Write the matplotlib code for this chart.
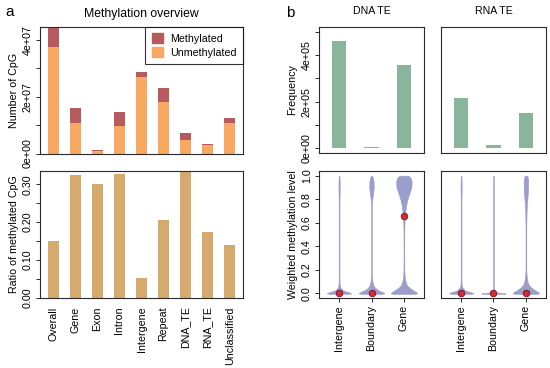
import numpy as np
import matplotlib as mpl
mpl.use('Agg')
import matplotlib.pyplot as plt
from matplotlib.patches import Patch

mpl.rcParams['font.family'] = ['Liberation Sans', 'DejaVu Sans']
mpl.rcParams['font.size'] = 7.7

# ---- panel a data ----
regions = ['Overall', 'Gene', 'Exon', 'Intron', 'Intergene', 'Repeat',
           'DNA_TE', 'RNA_TE', 'Unclassified']
unmethylated = [3.76e7, 1.08e7, 0.77e6, 0.98e7, 2.69e7, 1.81e7, 0.48e7, 0.29e7, 1.07e7]
methylated = [0.69e7, 0.53e7, 0.33e6, 0.48e7, 0.16e7, 0.48e7, 0.25e7, 0.06e7, 0.18e7]
ratio = [0.151, 0.325, 0.302, 0.328, 0.053, 0.205, 0.335, 0.173, 0.140]

# ---- panel b data ----
te_groups = ['DNA TE', 'RNA TE']
locations = ['Intergene', 'Boundary', 'Gene']
frequency = {'DNA TE': [4.58e5, 0.6e4, 3.58e5],
             'RNA TE': [2.17e5, 1.4e4, 1.50e5]}
medians = {'DNA TE': [0.0, 0.0, 0.655],
           'RNA TE': [0.0, 0.0, 0.0]}

# violin outlines: half width (x units) at each methylation level
levels = [-0.005, 0.0, 0.01, 0.02, 0.03, 0.05, 0.07, 0.1, 0.15, 0.2, 0.3, 0.4,
          0.5, 0.55, 0.6, 0.65, 0.7, 0.75, 0.8, 0.85, 0.9, 0.95, 0.98, 1.0]
halfwidth = {
    'DNA TE': [
        [0.30, 0.38, 0.30, 0.17, 0.10, 0.04, 0.02, 0.014, 0.012, 0.012, 0.012, 0.012,
         0.012, 0.012, 0.012, 0.012, 0.012, 0.012, 0.014, 0.018, 0.02, 0.018, 0.014, 0.01],
        [0.32, 0.40, 0.35, 0.26, 0.19, 0.10, 0.055, 0.03, 0.016, 0.013, 0.012, 0.012,
         0.012, 0.012, 0.012, 0.012, 0.012, 0.014, 0.025, 0.05, 0.07, 0.065, 0.045, 0.02],
        [0.33, 0.41, 0.38, 0.32, 0.26, 0.16, 0.09, 0.05, 0.022, 0.013, 0.011, 0.011,
         0.012, 0.014, 0.02, 0.03, 0.045, 0.07, 0.11, 0.17, 0.23, 0.24, 0.21, 0.14],
    ],
    'RNA TE': [
        [0.30, 0.38, 0.30, 0.17, 0.10, 0.04, 0.02, 0.014, 0.012, 0.012, 0.012, 0.012,
         0.012, 0.012, 0.012, 0.012, 0.012, 0.012, 0.013, 0.016, 0.018, 0.016, 0.013, 0.01],
        [0.36, 0.38, 0.012, 0.012, 0.012, 0.012, 0.012, 0.012, 0.012, 0.012, 0.012, 0.012,
         0.012, 0.012, 0.012, 0.012, 0.012, 0.012, 0.012, 0.012, 0.012, 0.012, 0.012, 0.01],
        [0.33, 0.41, 0.38, 0.32, 0.26, 0.16, 0.09, 0.05, 0.022, 0.013, 0.011, 0.011,
         0.012, 0.012, 0.014, 0.017, 0.022, 0.03, 0.045, 0.06, 0.07, 0.07, 0.06, 0.04],
    ],
}

COL_METH = '#b65a5d'
COL_UNMETH = '#f9a862'
COL_RATIO = '#d6a96c'
COL_FREQ = '#88b59c'
COL_VIOLIN = '#9b9dcb'
COL_DOT = '#d42a35'

W, H = 550, 368
fig = plt.figure(figsize=(W / 100, H / 100), dpi=100)


def add_ax(left, top, right, bottom):
    return fig.add_axes([left / W, 1 - bottom / H, (right - left) / W, (bottom - top) / H])


def style(ax):
    for s in ax.spines.values():
        s.set_linewidth(0.8)
        s.set_color('#2a2a2a')
    ax.tick_params(length=3.2, width=0.7, color='#2a2a2a', pad=2)
    for lab in ax.get_yticklabels():
        lab.set_rotation(90)
        lab.set_va('center')


# ---------- panel a, counts ----------
x = np.arange(len(regions))
ax1 = add_ax(40, 27, 243, 153.5)
ax1.bar(x, unmethylated, width=0.5, color=COL_UNMETH, label='Unmethylated')
ax1.bar(x, methylated, width=0.5, bottom=unmethylated, color=COL_METH, label='Methylated')
ax1.set_xlim(-0.6, len(regions) - 0.4)
ax1.set_ylim(0, max(np.add(unmethylated, methylated)))
ax1.set_yticks(np.arange(0, 5e7, 1e7))
ax1.set_yticklabels(['0e+00', '', '2e+07', '', '4e+07'])
ax1.set_xticks([])
ax1.set_ylabel('Number of CpG', labelpad=3)
ax1.set_title('Methylation overview', fontsize=8.8, pad=7)
style(ax1)
handles = [Patch(color=COL_METH), Patch(color=COL_UNMETH)]
leg = ax1.legend(handles, ['Methylated', 'Unmethylated'], loc='upper right',
                 fancybox=False, edgecolor='black', borderaxespad=0,
                 handlelength=1.0, handleheight=1.0, handletextpad=0.7,
                 borderpad=0.6, labelspacing=0.3, fontsize=7.7)
leg.get_frame().set_linewidth(0.8)

# ---------- panel a, ratio ----------
ax2 = add_ax(40, 171, 243, 298)
ax2.bar(x, ratio, width=0.5, color=COL_RATIO)
ax2.set_xlim(-0.6, len(regions) - 0.4)
ax2.set_ylim(0, max(ratio))
ax2.set_yticks(np.arange(0, 0.31, 0.05))
ax2.set_yticklabels(['0.00', '', '0.10', '', '0.20', '', '0.30'])
ax2.set_xticks(x)
ax2.set_xticklabels(regions, rotation=90)
ax2.set_ylabel('Ratio of methylated CpG', labelpad=3)
style(ax2)
ax2.tick_params(axis='x', length=0, pad=6)

# ---------- panel b ----------
pos = np.arange(1, len(locations) + 1)
lefts = {'DNA TE': (319, 424), 'RNA TE': (441, 546)}
for i, g in enumerate(te_groups):
    l, r = lefts[g]
    axt = add_ax(l, 27, r, 153)
    axt.bar(pos, frequency[g], width=0.44, color=COL_FREQ)
    axt.set_xlim(0.38, 3.62)
    axt.set_ylim(-2e4, 5.2e5)
    axt.set_xticks([])
    axt.set_title(g, fontsize=7.6, pad=9)
    style(axt)
    if i == 0:
        axt.set_yticks(np.arange(0, 5.1e5, 1e5))
        axt.set_yticklabels(['0e+00', '', '2e+05', '', '4e+05', ''])
        axt.set_ylabel('Frequency', labelpad=3)
    else:
        axt.set_yticks([])

    axb = add_ax(l, 171, r, 298)
    for p, hw in zip(pos, halfwidth[g]):
        hw = np.array(hw)
        axb.fill_betweenx(levels, p - hw, p + hw, color=COL_VIOLIN,
                          linewidth=0.4, edgecolor=COL_VIOLIN)
    axb.scatter(pos, medians[g], s=22, color=COL_DOT, edgecolor='#7a1018',
                linewidth=0.6, zorder=3)
    axb.set_xlim(0.38, 3.62)
    axb.set_ylim(-0.04, 1.04)
    axb.set_xticks(pos)
    axb.set_xticklabels(locations, rotation=90)
    style(axb)
    if i == 0:
        axb.set_yticks(np.arange(0, 1.01, 0.2))
        axb.set_yticklabels(['0.0', '0.2', '0.4', '0.6', '0.8', '1.0'])
        for lab in axb.get_yticklabels():
            lab.set_rotation(90)
            lab.set_va('center')
        axb.set_ylabel('Weighted methylation level', labelpad=3)
    else:
        axb.set_yticks([])

fig.text(10 / W, 1 - 12 / H, 'a', fontsize=11, ha='center', va='center')
fig.text(290 / W, 1 - 13 / H, 'b', fontsize=11, ha='center', va='center')

fig.savefig('out.png', dpi=100)
